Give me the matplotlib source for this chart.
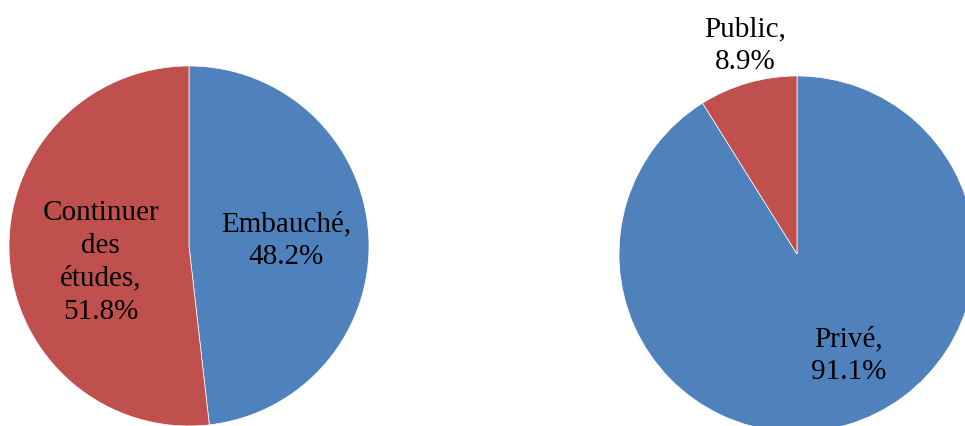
import matplotlib
matplotlib.use('Agg')
import matplotlib.pyplot as plt

# Left pie: situation after diploma
left_labels = ['Embauché', 'Continuer\ndes\nétudes']
left_values = [48.2, 51.8]

# Right pie: sector of employment
right_labels = ['Privé', 'Public']
right_values = [91.1, 8.9]

colors = ['#4F81BD', '#C0504D']

plt.rcParams['font.family'] = ['Liberation Serif', 'DejaVu Serif']

W, H = 965, 426
fig = plt.figure(figsize=(W / 100, H / 100), dpi=100)


def pie_axes(cx, cy, r):
    # cx, cy, r in pixels, cy measured from the top of the image
    return fig.add_axes([(cx - r) / W, (H - cy - r) / H, 2 * r / W, 2 * r / H])


def draw_pie(ax, values, labels, text_pos):
    ax.pie(values, colors=colors, startangle=90, counterclock=False,
           radius=1.0, wedgeprops=dict(edgecolor='white', linewidth=0.5))
    for lab, val, (x, y) in zip(labels, values, text_pos):
        t = ax.text(x, y, f'{lab},\n{val:.1f}%', ha='center', va='center',
                    fontsize=21, linespacing=1.35, color='black')
        t.set_clip_on(False)
    ax.set_xlim(-1, 1)
    ax.set_ylim(-1, 1)
    ax.set_aspect('equal')
    ax.axis('off')


ax1 = pie_axes(189, 246, 180)
draw_pie(ax1, left_values, left_labels, [(0.54, 0.03), (-0.49, -0.09)])

ax2 = pie_axes(797, 254, 178)
draw_pie(ax2, right_values, right_labels, [(0.29, -0.57), (-0.29, 1.17)])

plt.savefig('out.png', dpi=100)
plt.close()
